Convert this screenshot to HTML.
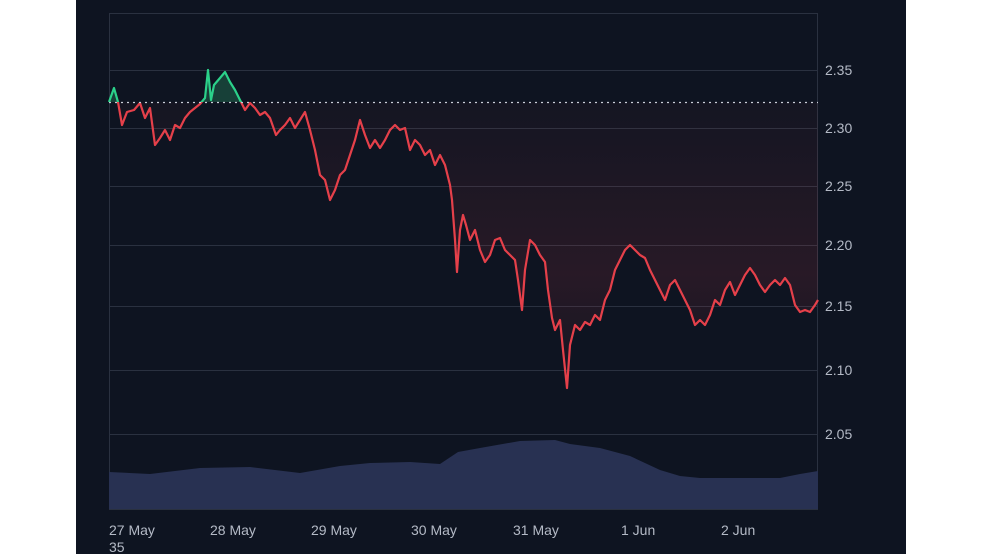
<!DOCTYPE html>
<html><head><style>
body{margin:0;background:#fff;width:984px;height:554px;overflow:hidden}
svg{position:absolute;left:0;top:0;font-family:"Liberation Sans",sans-serif}
</style></head><body>
<svg width="984" height="554" viewBox="0 0 984 554">
<defs>
<clipPath id="below"><rect x="100" y="102" width="730" height="420"/></clipPath>
<clipPath id="above"><rect x="100" y="0" width="730" height="102"/></clipPath>
<linearGradient id="rg" gradientUnits="userSpaceOnUse" x1="0" y1="102" x2="0" y2="390">
<stop offset="0" stop-color="#e5404a" stop-opacity="0.03"/><stop offset="0.6" stop-color="#e5404a" stop-opacity="0.12"/><stop offset="1" stop-color="#e5404a" stop-opacity="0.02"/></linearGradient>
</defs>
<rect x="76" y="0" width="830" height="554" fill="#0e1421"/>
<g stroke="#2a3140" stroke-width="1">
<line x1="109" y1="13.5" x2="818" y2="13.5"/>
<line x1="109" y1="70.5" x2="818" y2="70.5"/>
<line x1="109" y1="128.5" x2="818" y2="128.5"/>
<line x1="109" y1="186.5" x2="818" y2="186.5"/>
<line x1="109" y1="245.5" x2="818" y2="245.5"/>
<line x1="109" y1="306.5" x2="818" y2="306.5"/>
<line x1="109" y1="370.5" x2="818" y2="370.5"/>
<line x1="109" y1="434.5" x2="818" y2="434.5"/>
<line x1="109" y1="509.5" x2="818" y2="509.5"/>
<line x1="109.5" y1="13" x2="109.5" y2="509"/>
<line x1="817.5" y1="13" x2="817.5" y2="509"/>
</g>
<path fill="#283152" d="M109,472 L150,474 L200,468 L250,467 L300,473 L340,466 L370,463 L410,462 L440,464 L458,452 L480,448 L520,441 L555,440 L570,444 L600,448 L630,456 L660,470 L680,476 L700,478 L780,478 L800,474 L818,471 L818,509 L109,509Z"/>
<g fill="#b4bac6" font-size="14">
<text x="825" y="75">2.35</text><text x="825" y="133">2.30</text><text x="825" y="191">2.25</text><text x="825" y="250">2.20</text><text x="825" y="311">2.15</text><text x="825" y="375">2.10</text><text x="825" y="439">2.05</text>
<text x="109" y="535">27 May</text><text x="210" y="535">28 May</text><text x="311" y="535">29 May</text><text x="411" y="535">30 May</text><text x="513" y="535">31 May</text><text x="621" y="535">1 Jun</text><text x="721" y="535">2 Jun</text>
<text x="109" y="552">35</text>
</g>
<path clip-path="url(#below)" fill="url(#rg)" d="M109,102 L114,88 L118,102 L122,125 L127,112 L134,110 L140,103 L145,118 L150,108 L155,145 L160,138 L165,130 L170,140 L175,125 L180,128 L185,118 L190,112 L195,108 L200,104 L205,98 L208,70 L211,100 L214,85 L220,78 L225,72 L230,82 L235,90 L240,100 L245,110 L250,103 L255,108 L260,115 L265,112 L270,118 L276,135 L280,130 L285,125 L290,118 L295,128 L300,120 L305,112 L310,130 L315,150 L320,175 L325,180 L330,200 L335,190 L340,175 L345,170 L350,155 L355,140 L360,120 L365,135 L370,148 L375,140 L380,148 L385,140 L390,130 L395,125 L400,130 L405,128 L410,150 L415,140 L420,145 L425,155 L430,150 L435,165 L440,155 L445,165 L450,185 L452,200 L455,240 L457,272 L460,230 L463,215 L466,225 L470,240 L475,230 L480,250 L485,262 L490,255 L495,240 L500,238 L505,250 L510,255 L515,260 L518,280 L522,310 L525,270 L530,240 L535,245 L540,255 L545,262 L548,290 L552,318 L555,330 L560,320 L563,350 L567,388 L570,345 L575,325 L580,330 L585,322 L590,325 L595,315 L600,320 L605,300 L610,290 L615,270 L620,260 L625,250 L630,245 L635,250 L640,255 L645,258 L650,270 L655,280 L660,290 L665,300 L670,285 L675,280 L680,290 L685,300 L690,310 L695,325 L700,320 L705,325 L710,315 L715,300 L720,305 L725,290 L730,282 L735,295 L740,285 L745,275 L750,268 L755,275 L760,285 L765,292 L770,285 L775,280 L780,285 L785,278 L790,285 L795,305 L800,312 L805,310 L810,312 L815,305 L818,300 L818,102Z"/>
<g fill="none" stroke-width="2.2" stroke-linejoin="round">
<path clip-path="url(#below)" stroke="#e5404a" d="M109,102 L114,88 L118,102 L122,125 L127,112 L134,110 L140,103 L145,118 L150,108 L155,145 L160,138 L165,130 L170,140 L175,125 L180,128 L185,118 L190,112 L195,108 L200,104 L205,98 L208,70 L211,100 L214,85 L220,78 L225,72 L230,82 L235,90 L240,100 L245,110 L250,103 L255,108 L260,115 L265,112 L270,118 L276,135 L280,130 L285,125 L290,118 L295,128 L300,120 L305,112 L310,130 L315,150 L320,175 L325,180 L330,200 L335,190 L340,175 L345,170 L350,155 L355,140 L360,120 L365,135 L370,148 L375,140 L380,148 L385,140 L390,130 L395,125 L400,130 L405,128 L410,150 L415,140 L420,145 L425,155 L430,150 L435,165 L440,155 L445,165 L450,185 L452,200 L455,240 L457,272 L460,230 L463,215 L466,225 L470,240 L475,230 L480,250 L485,262 L490,255 L495,240 L500,238 L505,250 L510,255 L515,260 L518,280 L522,310 L525,270 L530,240 L535,245 L540,255 L545,262 L548,290 L552,318 L555,330 L560,320 L563,350 L567,388 L570,345 L575,325 L580,330 L585,322 L590,325 L595,315 L600,320 L605,300 L610,290 L615,270 L620,260 L625,250 L630,245 L635,250 L640,255 L645,258 L650,270 L655,280 L660,290 L665,300 L670,285 L675,280 L680,290 L685,300 L690,310 L695,325 L700,320 L705,325 L710,315 L715,300 L720,305 L725,290 L730,282 L735,295 L740,285 L745,275 L750,268 L755,275 L760,285 L765,292 L770,285 L775,280 L780,285 L785,278 L790,285 L795,305 L800,312 L805,310 L810,312 L815,305 L818,300"/>
<path clip-path="url(#above)" fill="#1f6b4f" fill-opacity="0.5" stroke="none" d="M109,102 L114,88 L118,102 L200,104 L205,98 L208,70 L211,100 L214,85 L220,78 L225,72 L230,82 L235,90 L240,100 L245,110Z"/>
<path clip-path="url(#above)" stroke="#2bd18a" d="M109,102 L114,88 L118,102 L122,125 M200,104 L205,98 L208,70 L211,100 L214,85 L220,78 L225,72 L230,82 L235,90 L240,100 L245,110"/>
</g>
<line x1="109" y1="102.5" x2="818" y2="102.5" stroke="#c9ced8" stroke-width="1.2" stroke-dasharray="2,4"/>
</svg>
</body></html>
